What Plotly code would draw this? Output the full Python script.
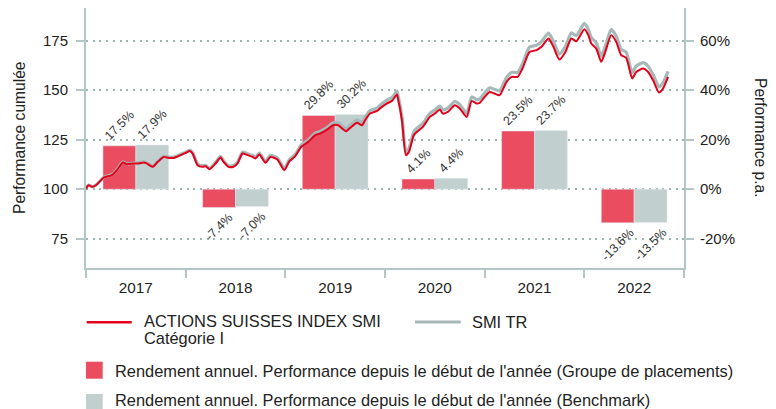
import plotly.graph_objects as go

# ---------------- data ----------------
years = [2017, 2018, 2019, 2020, 2021, 2022]
fund_annual = [17.5, -7.4, 29.8, 4.1, 23.5, -13.6]
bench_annual = [17.9, -7.0, 30.2, 4.4, 23.7, -13.5]

t_line = [2017.00, 2017.01, 2017.03, 2017.06, 2017.10, 2017.18, 2017.26, 2017.31, 2017.37, 2017.41,
          2017.48, 2017.53, 2017.58, 2017.61, 2017.67, 2017.72, 2017.78, 2017.83, 2017.88, 2017.95,
          2018.00, 2018.04, 2018.07, 2018.12, 2018.17, 2018.20, 2018.24, 2018.30, 2018.35, 2018.38,
          2018.43, 2018.48, 2018.52, 2018.57, 2018.62, 2018.67, 2018.70, 2018.74, 2018.80, 2018.85,
          2018.92, 2018.99, 2019.04, 2019.10, 2019.16, 2019.23, 2019.30, 2019.35, 2019.41, 2019.48,
          2019.53, 2019.56, 2019.61, 2019.67, 2019.72, 2019.77, 2019.80, 2019.85, 2019.92, 2019.95,
          2020.02, 2020.07, 2020.12, 2020.13, 2020.17, 2020.21, 2020.24, 2020.29, 2020.34, 2020.38,
          2020.45, 2020.50, 2020.55, 2020.58, 2020.63, 2020.70, 2020.75, 2020.82, 2020.87, 2020.92,
          2020.95, 2021.00, 2021.05, 2021.10, 2021.15, 2021.22, 2021.27, 2021.33, 2021.38, 2021.45,
          2021.52, 2021.57, 2021.64, 2021.69, 2021.75, 2021.81, 2021.87, 2021.92, 2022.00, 2022.04,
          2022.07, 2022.12, 2022.17, 2022.21, 2022.27, 2022.32, 2022.37, 2022.42, 2022.48, 2022.52,
          2022.59, 2022.64, 2022.69, 2022.75, 2022.79, 2022.84]

fund_cum = [100.0, 101.2, 102.0, 101.2, 102.0, 105.9, 107.1, 109.6, 113.5, 112.6,
            113.0, 113.0, 113.5, 113.0, 111.3, 113.8, 116.3, 115.8, 115.8, 117.2,
            118.3, 119.3, 118.0, 112.1, 111.3, 111.6, 110.1, 113.0, 116.0, 113.8,
            111.3, 111.3, 113.0, 118.0, 117.2, 116.3, 115.5, 117.5, 113.3, 116.3,
            115.0, 109.6, 114.0, 116.7, 121.4, 123.9, 127.3, 128.1, 129.8, 132.3,
            132.3, 131.1, 129.3, 131.8, 133.5, 132.3, 134.8, 138.2, 139.5, 140.8,
            143.3, 144.6, 147.8, 145.8, 134.8, 117.2, 118.8, 127.3, 129.8, 131.5,
            136.5, 138.2, 140.2, 138.2, 139.0, 142.4, 140.8, 136.5, 144.6, 143.3,
            143.6, 146.6, 149.1, 148.3, 147.5, 154.2, 156.7, 156.7, 161.0, 169.3,
            170.2, 171.9, 176.1, 171.9, 165.5, 169.3, 176.1, 174.7, 180.8, 177.8,
            173.6, 171.0, 164.3, 169.3, 177.8, 174.4, 167.7, 166.3, 155.9, 159.2,
            161.0, 159.2, 155.0, 148.8, 150.9, 156.7]

bench_cum = [100.0, 101.2, 102.1, 101.3, 102.1, 106.1, 107.3, 109.8, 113.7, 112.8,
             113.2, 113.3, 113.8, 113.3, 111.6, 114.1, 116.6, 116.2, 116.2, 117.6,
             118.7, 119.7, 118.4, 112.6, 111.8, 112.1, 110.6, 113.5, 116.6, 114.4,
             111.9, 111.9, 113.6, 118.7, 117.9, 117.0, 116.2, 118.2, 114.0, 117.1,
             115.8, 110.4, 114.9, 117.6, 122.4, 124.9, 128.3, 129.2, 130.9, 133.5,
             133.6, 132.4, 130.6, 133.2, 134.9, 133.8, 136.3, 139.7, 141.0, 142.4,
             145.0, 146.3, 149.5, 147.5, 136.5, 118.9, 120.5, 129.1, 131.6, 133.3,
             138.3, 140.0, 142.0, 140.1, 140.9, 144.3, 142.7, 138.5, 146.6, 145.3,
             145.6, 148.6, 151.2, 150.4, 149.7, 156.4, 159.0, 159.0, 163.4, 171.8,
             172.7, 174.5, 178.8, 174.6, 168.2, 172.1, 178.9, 177.6, 183.7, 180.7,
             176.5, 173.9, 167.2, 172.2, 180.7, 177.3, 170.6, 169.2, 158.8, 162.1,
             163.9, 162.1, 157.9, 151.7, 153.8, 159.5]

left_ticks = [75, 100, 125, 150, 175]
right_ticks = [-20, 0, 20, 40, 60]
right_ticktext = ["-20%", "0%", "20%", "40%", "60%"]

name_fund = "ACTIONS SUISSES INDEX SMI"
name_fund2 = "Catégorie I"
name_bench = "SMI TR"
name_bar_fund = "Rendement annuel. Performance depuis le début de l'année (Groupe de placements)"
name_bar_bench = "Rendement annuel. Performance depuis le début de l'année (Benchmark)"

# ---------------- styles ----------------
FONT = "Liberation Sans, Arial, sans-serif"
RED_BAR = "#E94D5F"
GREY_BAR = "#C2CFCF"
RED_LINE = "#E2001A"
GREY_LINE = "#A7B8B8"
AXIS = "#B3C6C6"
GRID = "#9DB5B0"
TXT = "#222222"

W, H = 776, 409
L, R, T, B = 86, 92, 8, 141
PW, PH = W - L - R, H - T - B


def px(x):
    return (x - L) / PW


def py(y):
    return (H - B - y) / PH


x_centers = [y + 0.5 for y in years]

fig = go.Figure()

fig.add_trace(go.Bar(
    x=x_centers, y=fund_annual, name=name_bar_fund, marker_color=RED_BAR,
    text=[f"{v:.1f}%" for v in fund_annual], textposition="outside", textangle=-45,
    constraintext="none", cliponaxis=False,
    textfont=dict(size=12.5, color="#333333", family=FONT), yaxis="y"))
fig.add_trace(go.Bar(
    x=x_centers, y=bench_annual, name=name_bar_bench, marker_color=GREY_BAR,
    text=[f"{v:.1f}%" for v in bench_annual], textposition="outside", textangle=-45,
    constraintext="none", cliponaxis=False,
    textfont=dict(size=12.5, color="#333333", family=FONT), yaxis="y"))

fig.add_trace(go.Scatter(
    x=t_line, y=bench_cum, mode="lines", name=name_bench,
    line=dict(color=GREY_LINE, width=3.2, shape="spline", smoothing=0.6), yaxis="y2"))
fig.add_trace(go.Scatter(
    x=t_line, y=fund_cum, mode="lines", name=name_fund,
    line=dict(color=RED_LINE, width=2, shape="spline", smoothing=0.6), yaxis="y2"))

fig.update_layout(
    width=W, height=H, margin=dict(l=L, r=R, t=T, b=B),
    paper_bgcolor="white", plot_bgcolor="white",
    showlegend=False, barmode="group", bargap=0.34, bargroupgap=0,
    font=dict(family=FONT, size=15, color=TXT),
    xaxis=dict(
        range=[2016.9999, 2023.0001], tickmode="array", tickvals=x_centers,
        ticktext=[str(y) for y in years], ticks="outside", ticklen=5,
        tickcolor="rgba(0,0,0,0)", showgrid=False, zeroline=False,
        showline=True, linecolor=AXIS, linewidth=2,
        tickfont=dict(size=15.3, color=TXT),
        minor=dict(tickmode="array", tickvals=years + [2023], ticks="outside",
                   ticklen=8, tickwidth=2, tickcolor=AXIS, showgrid=False),
        fixedrange=True),
    yaxis=dict(
        side="right", range=[-31.84, 73.2], tickmode="array", tickvals=right_ticks,
        ticktext=right_ticktext, ticks="outside", ticklen=8, tickwidth=2, tickcolor=AXIS,
        showline=True, linecolor=AXIS, linewidth=2, zeroline=False,
        showgrid=True, gridcolor=GRID, gridwidth=2, griddash="2px,4.7px",
        ticklabelstandoff=3,
        tickfont=dict(size=15, color=TXT)),
    yaxis2=dict(
        side="left", overlaying="y", range=[60.2, 191.5], tickmode="array",
        tickvals=left_ticks, ticks="outside", ticklen=8, tickwidth=2, tickcolor=AXIS,
        showline=True, linecolor=AXIS, linewidth=2, zeroline=False, showgrid=False,
        ticklabelstandoff=5,
        tickfont=dict(size=15, color=TXT)),
)

ann = []
# axis titles
ann.append(dict(x=px(19), y=py(138), xref="paper", yref="paper", text="Performance cumulée",
                textangle=-90, showarrow=False, font=dict(size=15.6, color=TXT),
                xanchor="center", yanchor="middle"))
ann.append(dict(x=px(761), y=py(138), xref="paper", yref="paper", text="Performance p.a.",
                textangle=90, showarrow=False, font=dict(size=15.6, color=TXT),
                xanchor="center", yanchor="middle"))

# custom legend
shapes = []
shapes.append(dict(type="line", xref="paper", yref="paper", x0=px(86.7), x1=px(131.7),
                   y0=py(322.3), y1=py(322.3), line=dict(color=RED_LINE, width=2.5)))
shapes.append(dict(type="line", xref="paper", yref="paper", x0=px(415), x1=px(460.7),
                   y0=py(322), y1=py(322), line=dict(color=GREY_LINE, width=3)))
shapes.append(dict(type="rect", xref="paper", yref="paper", x0=px(86), x1=px(102.7),
                   y0=py(361.7), y1=py(378.7), fillcolor=RED_BAR, line=dict(width=0)))
shapes.append(dict(type="rect", xref="paper", yref="paper", x0=px(86), x1=px(102.7),
                   y0=py(394), y1=py(411), fillcolor=GREY_BAR, line=dict(width=0)))

LEG = 16.4
for txt, x, y in [(name_fund, 141.7, 321.0), (name_fund2, 141.7, 338.0), (name_bench, 470, 321.5),
                  (name_bar_fund, 112.7, 370.5), (name_bar_bench, 112.7, 399.5)]:
    ann.append(dict(x=px(x), y=py(y), xref="paper", yref="paper", text=txt, showarrow=False,
                    xanchor="left", yanchor="middle", font=dict(size=LEG, color=TXT)))

fig.update_layout(annotations=ann, shapes=shapes)

fig.write_html("out.html", config={"displayModeBar": False},
               post_script="document.body.style.margin='0';document.body.style.overflow='hidden';")
